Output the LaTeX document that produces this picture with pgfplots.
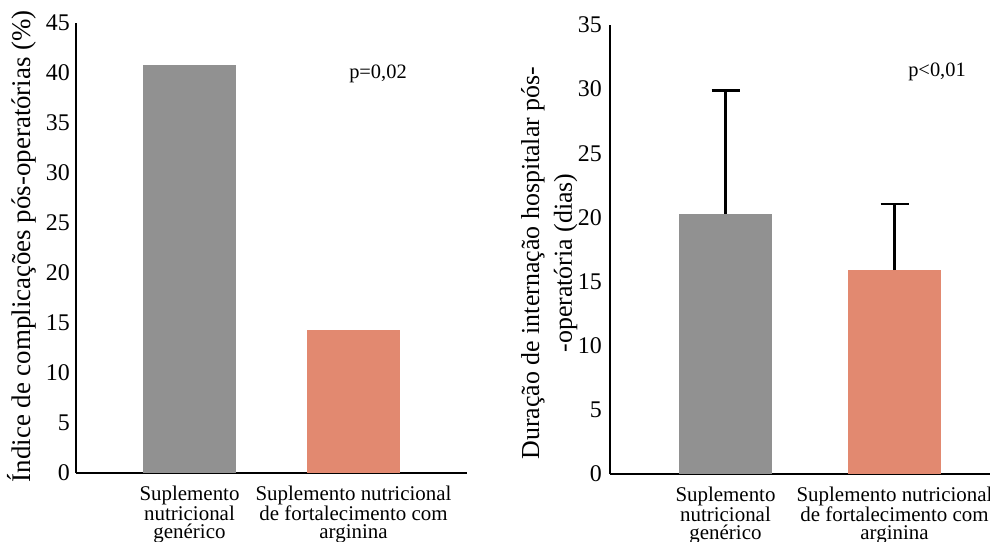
\documentclass[border=0pt]{standalone}
\usepackage{fontspec}
\setmainfont{Liberation Serif}
\usepackage{pgfplots}
\pgfplotsset{compat=1.18}
\definecolor{barGray}{RGB}{145,145,145}
\definecolor{barOrange}{RGB}{226,137,112}
\begin{document}
\begin{tikzpicture}[x=1bp,y=1bp]
\useasboundingbox (0bp,0bp) rectangle (990bp,542bp);
\pgfplotsset{
  common/.style={
    scale only axis,
    axis lines*=left,
    axis line style={line width=2.6bp, black},
    major tick length=0pt,
    xtick style={draw=none}, ytick style={draw=none},
    /pgf/number format/assume math mode=true,
    yticklabel style={font=\fontsize{24}{24}\selectfont, anchor=east, inner sep=0pt},
    xticklabel style={font=\fontsize{21}{18}\selectfont, align=center, anchor=north, inner sep=0pt, yshift=-12.5bp},
    ymin=0,
    ybar, bar width=93bp, bar shift=0pt,
    clip=false,
    anchor=south west,
  }
}
% Left panel
\begin{axis}[common,
  at={(76bp,69bp)},
  width=391bp, height=450bp,
  xmin=0, xmax=391,
  ymax=45, ytick={0,5,...,45},
  yticklabel style={xshift=-6bp},
  xtick={113.5,277.5},
  xticklabels={{Suplemento\\nutricional\\genérico},{Suplemento nutricional\\de fortalecimento com\\arginina}},
  ylabel={Índice de complicações pós-operatórias (\%)},
  ylabel style={at={(axis description cs:-0.138,0.504)}, anchor=center, font=\fontsize{27}{27}\selectfont, inner sep=0pt},
]
\addplot[fill=barGray, draw=none] coordinates {(113.5,40.8)};
\addplot[fill=barOrange, draw=none] coordinates {(277.5,14.3)};
\node[font=\fontsize{20.5}{20.5}\selectfont] at (axis cs:302,39.9) {p=0,02};
\end{axis}
% Right panel
\begin{axis}[common,
  at={(610bp,68bp)},
  width=380bp, height=449bp,
  xmin=0, xmax=380,
  ymax=35, ytick={0,5,...,35},
  yticklabel style={xshift=-8bp},
  xtick={115.5,284.5},
  xticklabels={{Suplemento\\nutricional\\genérico},{Suplemento nutricional\\de fortalecimento com\\arginina}},
  ylabel={Duração de internação hospitalar pós-\\-operatória (dias)},
  ylabel style={at={(axis description cs:-0.16,0.47)}, anchor=center, align=center, font=\fontsize{26}{33}\selectfont, inner sep=0pt},
]
\addplot[fill=barGray, draw=none,
  error bars/.cd, y dir=plus, y explicit,
  error bar style={line width=2.5bp, black},
  error mark options={rotate=90, mark size=14bp, line width=2.5bp, black}]
  coordinates {(115.5,20.3) +- (0,9.6)};
\addplot[fill=barOrange, draw=none,
  error bars/.cd, y dir=plus, y explicit,
  error bar style={line width=2.5bp, black},
  error mark options={rotate=90, mark size=14bp, line width=2.5bp, black}]
  coordinates {(284.5,15.9) +- (0,5.15)};
\node[font=\fontsize{20.5}{20.5}\selectfont] at (axis cs:327,31.35) {p<0,01};
\end{axis}
\end{tikzpicture}
\end{document}
